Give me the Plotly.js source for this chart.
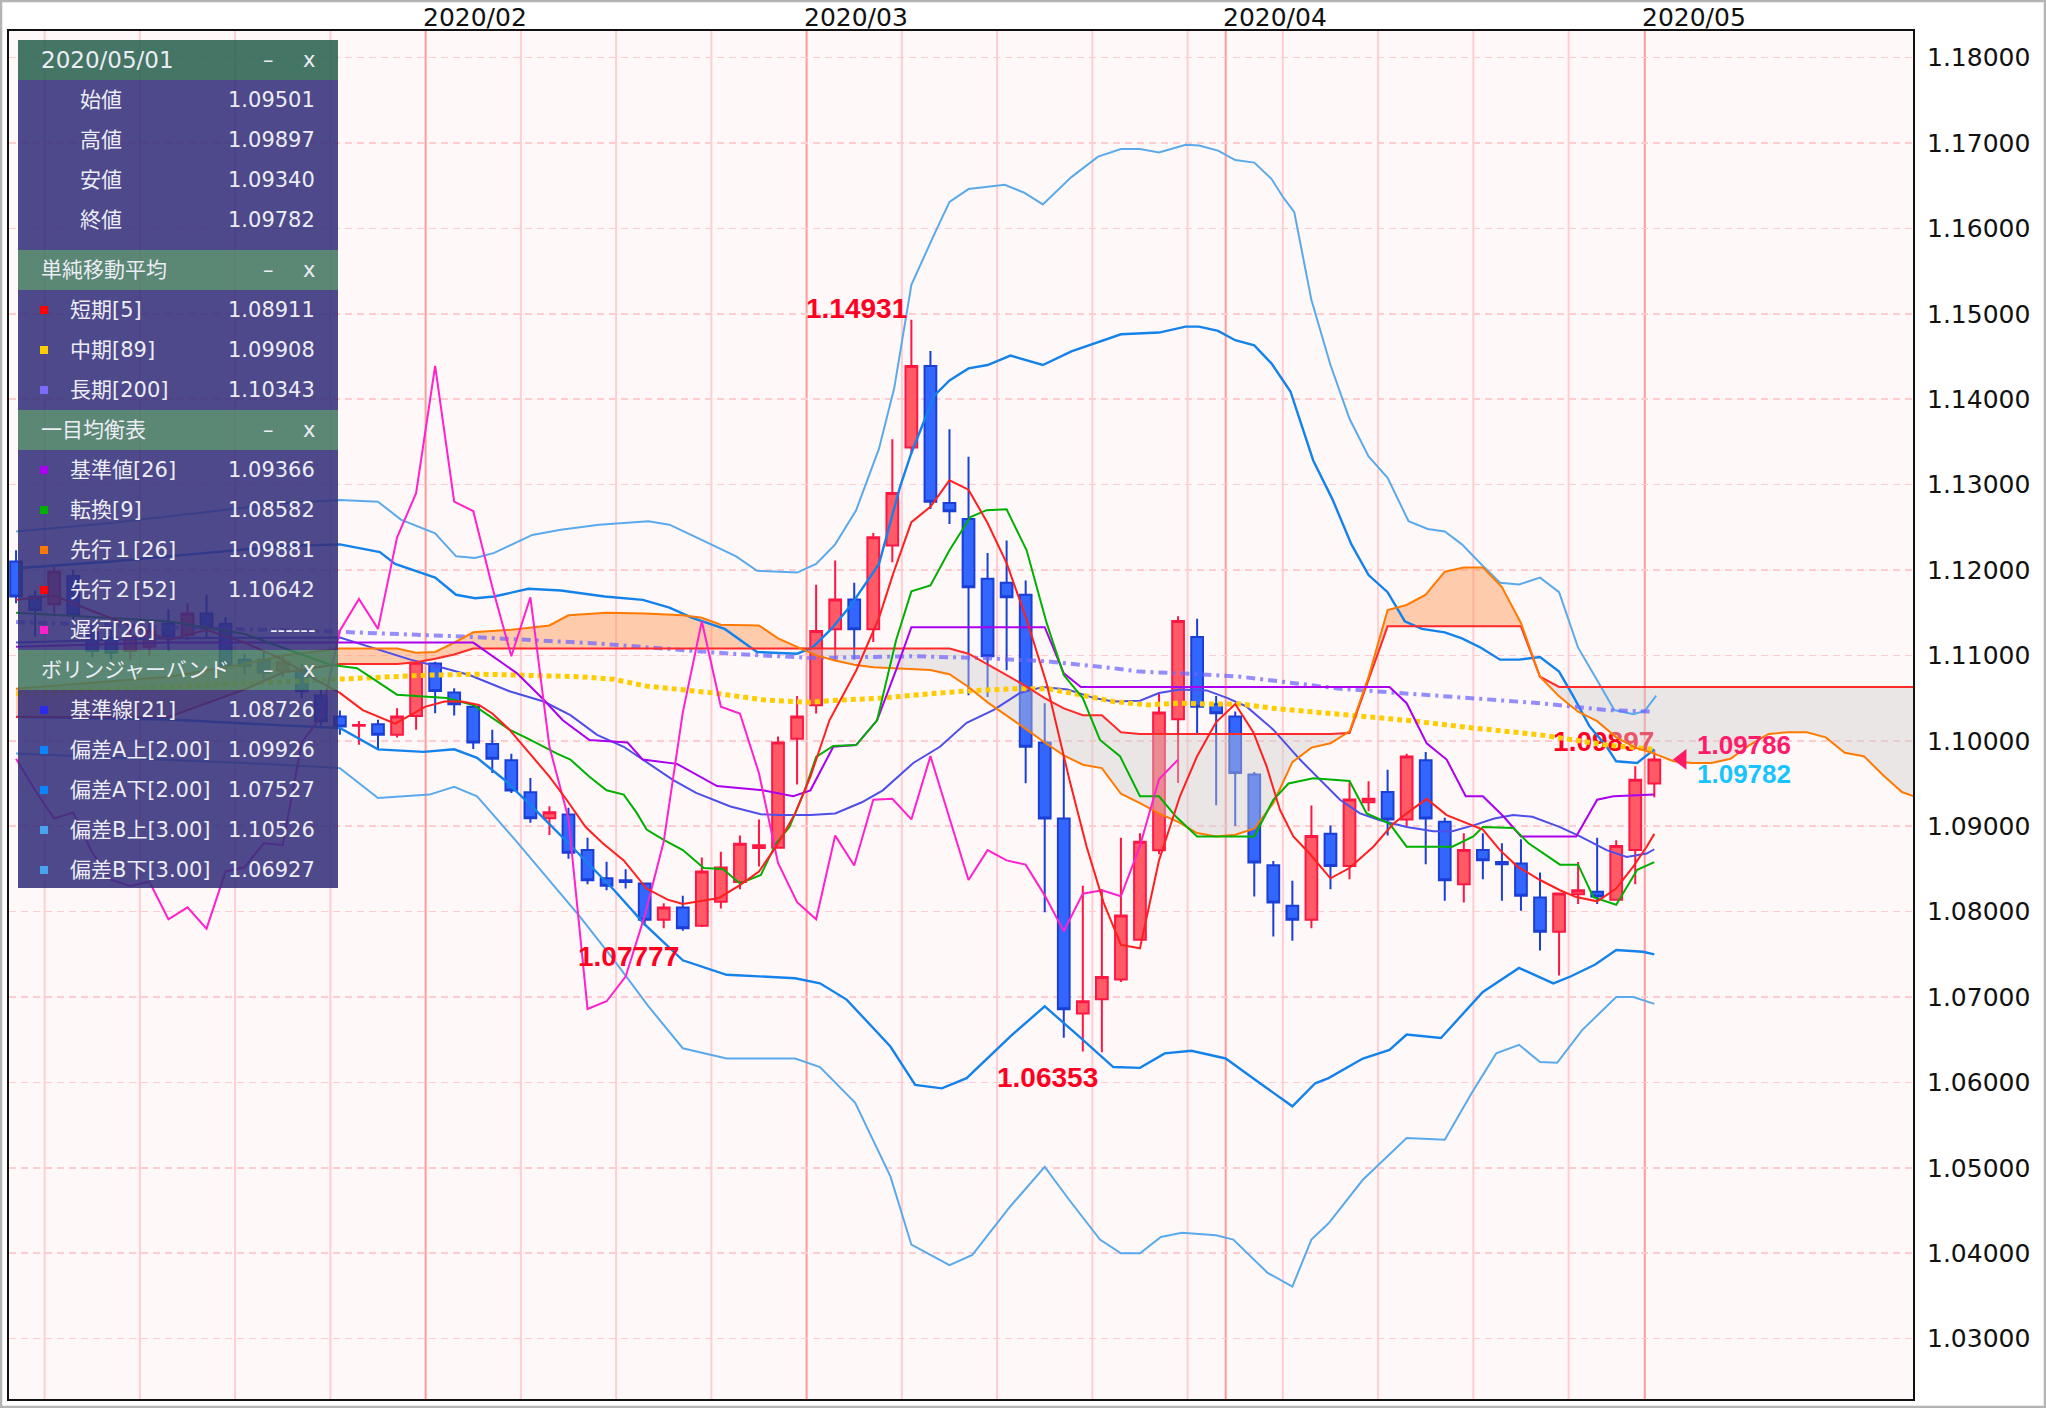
<!DOCTYPE html>
<html>
<head>
<meta charset="utf-8">
<script src="https://cdn.plot.ly/plotly-3.0.1.min.js"></script>
<style>
html,body{margin:0;padding:0;background:#ffffff;}
#chart{width:2046px;height:1408px;}
</style>
</head>
<body>
<div id="chart"></div>
<script>
// ---------- trading days (categories) ----------
const dates = [
 "2020-01-02","2020-01-03",
 "2020-01-06","2020-01-07","2020-01-08","2020-01-09","2020-01-10",
 "2020-01-13","2020-01-14","2020-01-15","2020-01-16","2020-01-17",
 "2020-01-20","2020-01-21","2020-01-22","2020-01-23","2020-01-24",
 "2020-01-27","2020-01-28","2020-01-29","2020-01-30","2020-01-31",
 "2020-02-03","2020-02-04","2020-02-05","2020-02-06","2020-02-07",
 "2020-02-10","2020-02-11","2020-02-12","2020-02-13","2020-02-14",
 "2020-02-17","2020-02-18","2020-02-19","2020-02-20","2020-02-21",
 "2020-02-24","2020-02-25","2020-02-26","2020-02-27","2020-02-28",
 "2020-03-02","2020-03-03","2020-03-04","2020-03-05","2020-03-06",
 "2020-03-09","2020-03-10","2020-03-11","2020-03-12","2020-03-13",
 "2020-03-16","2020-03-17","2020-03-18","2020-03-19","2020-03-20",
 "2020-03-23","2020-03-24","2020-03-25","2020-03-26","2020-03-27",
 "2020-03-30","2020-03-31",
 "2020-04-01","2020-04-02","2020-04-03",
 "2020-04-06","2020-04-07","2020-04-08","2020-04-09","2020-04-10",
 "2020-04-13","2020-04-14","2020-04-15","2020-04-16","2020-04-17",
 "2020-04-20","2020-04-21","2020-04-22","2020-04-23","2020-04-24",
 "2020-04-27","2020-04-28","2020-04-29","2020-04-30",
 "2020-05-01"
];

// ---------- OHLC ----------
const open = [
 1.1210,1.1169,1.1160,1.1193,1.1127,1.1121,1.1105,1.1110,1.1137,1.1124,1.1149,1.1137,1.1095,1.1095,1.1082,1.1082,1.1053,
 1.10284,1.10175,1.10194,1.10070,1.10291,1.10906,1.10564,1.10400,1.09961,1.09771,1.09398,1.09094,1.09137,1.08721,1.08391,1.08368,1.08329,1.07905,1.08049,1.07835,1.08115,1.08348,1.08745,1.08749,1.10023,
 1.10417,1.11305,1.11655,1.11305,1.12286,1.13435,1.14389,1.12784,1.12597,1.11896,1.11850,1.11709,1.09981,1.09091,1.06808,1.06975,1.07204,1.07670,1.08717,1.10253,1.11216,1.10428,
 1.10284,1.09604,1.08543,1.08068,1.07905,1.08912,1.08535,1.09281,1.09401,1.09079,1.09771,1.09052,1.08321,1.08721,1.08582,1.08562,1.08166,1.07765,1.08204,1.08232,1.08138,1.08721,
 1.09501];
const high = [
 1.1223,1.1176,1.1205,1.1200,1.1138,1.1130,1.1130,1.1140,1.1154,1.1161,1.1171,1.1145,1.1102,1.1104,1.1100,1.1090,1.1060,
 1.10354,1.10233,1.10245,1.10381,1.10944,1.10925,1.10614,1.10439,1.10128,1.09848,1.09565,1.09234,1.09215,1.08865,1.08585,1.08496,1.08329,1.08099,1.08185,1.08632,1.08702,1.08892,1.09079,1.10051,1.10525,
 1.11826,1.12111,1.11850,1.12434,1.13532,1.14931,1.14564,1.13649,1.13326,1.12200,1.12344,1.11877,1.10439,1.09837,1.08303,1.08264,1.08866,1.08917,1.10564,1.11457,1.11430,1.10525,
 1.10342,1.09635,1.08593,1.08360,1.09242,1.09009,1.09514,1.09526,1.09662,1.09848,1.09868,1.09098,1.08916,1.08916,1.08799,1.08846,1.08457,1.08220,1.08581,1.08865,1.08834,1.09701,
 1.09897];
const low = [
 1.1161,1.1122,1.1149,1.1142,1.1098,1.1095,1.1095,1.1100,1.1105,1.1118,1.1120,1.1080,1.1078,1.1072,1.1075,1.1050,1.1018,
 1.10070,1.09953,1.09903,1.10039,1.10128,1.10323,1.10295,1.09903,1.09623,1.09390,1.09040,1.08896,1.08620,1.08321,1.08251,1.08270,1.07835,1.07804,1.07777,1.07820,1.08037,1.08263,1.08527,1.08749,1.09487,
 1.10319,1.10931,1.10950,1.11157,1.12091,1.13357,1.12714,1.12539,1.10533,1.10514,1.10826,1.09502,1.07992,1.06524,1.06361,1.06353,1.07177,1.07670,1.08671,1.09506,1.10089,1.09246,
 1.09001,1.08177,1.07707,1.07660,1.07804,1.08263,1.08379,1.09176,1.08892,1.09001,1.08554,1.08127,1.08107,1.08379,1.08127,1.08010,1.07544,1.07252,1.08088,1.08088,1.08138,1.08321,
 1.09340];
const close = [
 1.1169,1.1153,1.1198,1.1147,1.1105,1.1103,1.1122,1.1129,1.1122,1.1149,1.1132,1.1088,1.1088,1.1080,1.1092,1.1058,1.1023,
 1.10167,1.10185,1.10070,1.10284,1.10913,1.10583,1.10428,1.09981,1.09790,1.09417,1.09094,1.09164,1.08690,1.08368,1.08302,1.08348,1.07905,1.08049,1.07804,1.08469,1.08515,1.08795,1.08776,1.09981,1.10284,
 1.11285,1.11655,1.11305,1.12383,1.12901,1.14389,1.12800,1.12687,1.11799,1.10989,1.11682,1.09930,1.09091,1.06858,1.06951,1.07235,1.07953,1.08819,1.10330,1.11403,1.10400,1.10323,
 1.09623,1.08574,1.08107,1.07905,1.08885,1.08535,1.09312,1.09320,1.09079,1.09817,1.09091,1.08368,1.08721,1.08601,1.08554,1.08185,1.07765,1.08212,1.08251,1.08177,1.08768,1.09545,
 1.09782];
const askPrice = 1.09786;
const labelledExtremes = [{i:47, kind:"high"}, {i:35, kind:"low"}, {i:57, kind:"low"}];

// ---------- moving averages (x = trading-day index) ----------
const sma5X = [0,2,4,6,8,10,12,14,16,17,18.2,19.9,21.5,22.5,23.4,24.3,25,25.9,28,28.9,29.9,30.8,31.9,33.1,34.2,35,35.9,36.9,38,39,39.9,40.9,41.7,42.7,44.1,45.3,46.05,47,48,49,50,51,52,53.05,54.1,55.3,56.2,57.1,58,59,60,61.1,62,63,64,64.95,65.65,66.35,67.05,67.9,69,70,71.25,72.3,73,74.05,75.1,76.2,77,77.9,78.8,80,81.05,81.9,83,84,84.9,85.6,86];
const sma5 = [1.1165,1.1170,1.1152,1.1135,1.1118,1.1130,1.1115,1.1095,1.1068,1.1056,1.1036,1.1020,1.1040,1.1046,1.1046,1.1042,1.1032,1.1013,1.0958,1.0931,1.0899,1.0880,1.0860,1.0827,1.0814,1.0809,1.0812,1.0816,1.0831,1.0847,1.0876,1.0915,1.0958,1.1024,1.1082,1.1144,1.1196,1.1256,1.1274,1.1305,1.1294,1.1255,1.1208,1.1142,1.1067,1.0954,1.0876,1.0810,1.0761,1.0757,1.0860,1.0935,1.0982,1.1022,1.1043,1.1010,1.0970,1.0919,1.0888,1.0868,1.0839,1.0851,1.0876,1.0903,1.0915,1.0932,1.0913,1.0903,1.0896,1.0872,1.0853,1.0837,1.0825,1.0817,1.0812,1.0827,1.0853,1.0876,1.0891];
const sma89X = [0,8,16.5,19.1,21.7,24.4,27,29.6,31.4,33.1,34.9,36.6,39.2,41.7,42.7,45.4,48,49.7,52.35,54.1,55.85,57.6,59.4,61.1,62.5,64.3,66,69.5,73,76.5,80,83.5,86];
const sma89 = [1.1055,1.1063,1.1071,1.1074,1.1077,1.1078,1.1077,1.1075,1.1072,1.1064,1.1060,1.1056,1.1048,1.1045,1.1047,1.1050,1.1055,1.1058,1.1061,1.1061,1.1054,1.1046,1.1042,1.1044,1.1043,1.1043,1.1038,1.1031,1.1024,1.1015,1.1007,1.0995,1.0990];
const sma200X = [0,8,16.5,23.5,30.5,34,37.5,41.7,47.1,50.6,54.1,57.6,59,61.1,64.3,69.5,74.7,80,83.5,86];
const sma200 = [1.1139,1.1133,1.1128,1.1122,1.1114,1.1108,1.1102,1.1097,1.1099,1.1097,1.1093,1.1085,1.1081,1.1079,1.1075,1.1061,1.1052,1.1044,1.1036,1.1034];

// ---------- ichimoku ----------
const kijunX = [0,8,17,24,26.3,27.7,28.7,30.1,32.1,32.9,34.7,36.8,39.2,40.8,41.7,42.9,44.1,45.2,46.2,47,54,55,55.9,72.1,73,74.05,75.1,76.1,77,78.1,79,81.9,83,83.85,86];
const kijun = [1.1110,1.1115,1.1115,1.1115,1.1079,1.1048,1.1024,1.1001,1.0998,1.0978,1.0973,1.0947,1.0942,1.0935,1.0942,1.0993,1.0995,1.1024,1.1083,1.1133,1.1133,1.1079,1.1063,1.1063,1.1044,1.0997,1.0978,1.0935,1.0935,1.0911,1.0888,1.0888,1.0931,1.0935,1.0937];
const tenkanX = [0,8,12,16.5,17.9,20,21.4,22.6,24,25.9,27,28.4,29.1,30.1,31,31.9,32.6,33.1,34,35,36.1,37.1,38,39.1,39.9,40.6,41.4,42,42.9,44.1,45.2,46.2,47,48,49,50.1,50.95,52,53.05,54.1,55,56,56.9,57.95,59,60,60.9,62,65,66,66.8,68.1,70,70.9,72.1,73,75.4,76.5,77,78.6,79.4,81.05,82,82.8,84,85.1,86];
const tenkan = [1.1150,1.1140,1.1125,1.1089,1.1085,1.1054,1.1052,1.1050,1.1042,1.1013,1.1001,1.0985,1.0978,1.0958,1.0942,1.0937,1.0915,1.0896,1.0884,1.0872,1.0851,1.0850,1.0833,1.0843,1.0880,1.0899,1.0942,1.0981,1.0994,1.0995,1.1024,1.1118,1.1175,1.1182,1.1223,1.1262,1.1270,1.1271,1.1223,1.1138,1.1077,1.1050,1.1001,1.0982,1.0935,1.0935,1.0911,1.0888,1.0888,1.0931,1.0950,1.0956,1.0953,1.0915,1.0903,1.0876,1.0876,1.0888,1.0899,1.0898,1.0880,1.0855,1.0855,1.0817,1.0808,1.0849,1.0858];
const cloudX = [
 0,4,8,12,14,17,20,21,22,23,
 24,26,28,29,31,33,35,36,37,39,
 40,41,42,43,44,45,47,48,49,50,
 51,52,53,54,55,56,57,58,59,60,
 61,62,63,64,65,66,67,68,69,70,
 71,72,73,74,75,76,77,78,79,80,
 81,82,83,84,85,86,87,88,89,90,
 91,92,93,94,95,96,97,98,99,100];
const senkouA = [
 1.1061,1.1068,1.1075,1.1090,1.1100,1.1108,1.1108,1.1103,1.1104,1.1115,
 1.1127,1.1130,1.1135,1.1147,1.1150,1.1149,1.1147,1.1144,1.1136,1.1135,
 1.1120,1.1110,1.1100,1.1094,1.1089,1.1086,1.1084,1.1083,1.1078,1.1063,
 1.1045,1.1030,1.1014,1.0998,1.0983,1.0972,1.0968,1.0938,1.0927,1.0915,
 1.0905,1.0892,1.0888,1.0890,1.0897,1.0927,1.0975,1.0992,1.0997,1.1011,
 1.1075,1.1153,1.1159,1.1171,1.1198,1.1203,1.1203,1.1180,1.1138,1.1075,
 1.1052,1.1034,1.1023,1.1004,1.0992,1.0985,1.0976,1.0974,1.0974,1.0979,
 1.0995,1.1008,1.1010,1.1010,1.1004,1.0986,1.0982,1.0960,1.0940,1.0932];
const senkouB = [
 1.1028,1.1028,1.1028,1.1060,1.1080,1.1090,1.1090,1.1092,1.1096,1.1101,
 1.1108,1.1108,1.1108,1.1108,1.1108,1.1108,1.1108,1.1108,1.1108,1.1108,
 1.1108,1.1108,1.1108,1.1108,1.1108,1.1108,1.1108,1.1108,1.1108,1.1102,
 1.1090,1.1077,1.1064,1.1050,1.1038,1.1030,1.1030,1.1010,1.1008,1.1008,
 1.1008,1.1008,1.1008,1.1008,1.1008,1.1008,1.1008,1.1008,1.1008,1.1009,
 1.1072,1.1134,1.1134,1.1134,1.1134,1.1134,1.1134,1.1134,1.1134,1.1075,
 1.1063,1.1063,1.1063,1.1063,1.1063,1.1063,1.1063,1.1063,1.1063,1.1063,
 1.1063,1.1063,1.1063,1.1063,1.1063,1.1063,1.1063,1.1063,1.1063,1.1063];
const chikou = [
 1.0979,1.0942,1.0909,1.0916,1.0869,1.0837,1.0830,1.0835,1.0791,1.0805,
 1.0780,1.0847,1.0852,1.0880,1.0878,1.0998,1.1028,1.1129,1.1166,1.1131,
 1.1238,1.1290,1.1439,1.1280,1.1269,1.1180,1.1099,1.1168,1.0993,1.0909,
 1.0686,1.0695,1.0724,1.0795,1.0882,1.1033,1.1140,1.1040,1.1032,1.0962,
 1.0857,1.0811,1.0791,1.0889,1.0854,1.0931,1.0932,1.0908,1.0982,1.0909,
 1.0837,1.0872,1.0860,1.0855,1.0819,1.0777,1.0821,1.0825,1.0818,1.0877,
 1.0955,1.0978];

// ---------- bollinger ----------
const bbU3X = [0,5,10,14,17,19,20.2,22,23.1,24.1,25.1,27.1,28.6,30.6,33.2,34.3,36.1,37.8,38.9,41,42,43,44.1,45.3,46.1,47,48.2,49,50,51.9,52.9,53.9,55.4,56.8,58,59,60,61.4,62.1,63.1,64,65,65.9,66.5,67.1,68,69,70,71,72,73.1,74.1,75,75.9,76.9,77.9,78.9,80,81,82,83,83.9,84.9,85.5,86.1];
const bbU3 = [1.1245,1.1255,1.1268,1.1278,1.1282,1.1280,1.1259,1.1243,1.1216,1.1214,1.1220,1.1241,1.1247,1.1253,1.1257,1.1253,1.1234,1.1216,1.1199,1.1197,1.1207,1.1230,1.1270,1.1342,1.1413,1.1534,1.1593,1.1631,1.1646,1.1651,1.1642,1.1628,1.1660,1.1684,1.1693,1.1693,1.1689,1.1698,1.1697,1.1691,1.1680,1.1677,1.1658,1.1637,1.1619,1.1516,1.1440,1.1377,1.1333,1.1308,1.1257,1.1248,1.1245,1.1230,1.1207,1.1185,1.1183,1.1191,1.1174,1.1109,1.1071,1.1036,1.1031,1.1035,1.1053];
const bbU2X = [0,5,10,14,17,19.1,19.9,22,23.1,24.1,25.1,26.9,28.6,30.9,32.9,34.3,35.5,37.2,38.9,41,41.8,42.8,43.8,45.3,46.4,47,48.2,49,50,51,52.2,53.9,55.4,56.8,58,60,61.4,62.1,63.1,64,65,65.9,66.9,68.1,69.1,70.1,71,72,72.9,73.8,75,75.9,76.9,77.9,78.9,80,81,81.75,82.6,83.5,84,85.1,86];
const bbU2 = [1.1202,1.1210,1.1220,1.1228,1.1230,1.1221,1.1207,1.1191,1.1171,1.1167,1.1169,1.1178,1.1176,1.1169,1.1165,1.1156,1.1144,1.1131,1.1104,1.1102,1.1109,1.1131,1.1158,1.1207,1.1297,1.1337,1.1404,1.1422,1.1436,1.1440,1.1451,1.1440,1.1456,1.1467,1.1476,1.1478,1.1485,1.1485,1.1480,1.1469,1.1463,1.1442,1.1409,1.1328,1.1283,1.1230,1.1194,1.1174,1.1140,1.1131,1.1127,1.1120,1.1109,1.1095,1.1095,1.1098,1.1081,1.1052,1.1017,1.0993,1.0976,1.0974,1.0990];
const bbMidX = [0,8,17,20.7,22.3,23.8,25.9,27.7,29.1,30.5,31.9,32.9,34.5,35.7,37.5,39.1,40.1,41.7,43,44.4,45.5,47.1,48.5,49.9,51.3,52.7,53.9,55.2,56.6,57.6,59,60,61.1,62.5,63.6,64.6,66,67.4,68.45,69.5,70.55,71.6,73,74.4,75.4,76.5,77.6,78.6,79.6,81.05,82.1,83.5,84.55,85.6,86];
const bbMid = [1.1115,1.1120,1.1121,1.1095,1.1086,1.1077,1.1058,1.1046,1.1030,1.1007,1.0993,1.0978,1.0954,1.0939,1.0923,1.0914,1.0913,1.0913,1.0915,1.0928,1.0942,1.0974,1.0993,1.1021,1.1036,1.1056,1.1063,1.1060,1.1050,1.1046,1.1047,1.1056,1.1060,1.1059,1.1050,1.1040,1.1013,1.0978,1.0954,1.0931,1.0915,1.0907,1.0899,1.0894,1.0894,1.0901,1.0909,1.0913,1.0911,1.0899,1.0888,1.0872,1.0864,1.0868,1.0873];
const bbL2X = [0,8,14,17,19,21.4,23,24.2,25.6,27,29,31.4,33,35,37.3,40.9,42.2,43.6,45.9,47.2,48.6,49.9,52.2,54,55.8,57.6,59,60.3,61.7,63.5,65.3,67,68.2,68.9,70.7,72.1,73,74.8,77,78.9,80.7,81.6,82.9,84,85.4,86];
const bbL2 = [1.1028,1.1025,1.1018,1.1015,1.0990,1.0987,1.0990,1.0980,1.0955,1.0925,1.0880,1.0825,1.0785,1.0743,1.0726,1.0722,1.0716,1.0697,1.0642,1.0597,1.0593,1.0605,1.0654,1.0689,1.0654,1.0618,1.0617,1.0634,1.0637,1.0628,1.0599,1.0572,1.0599,1.0605,1.0628,1.0638,1.0656,1.0652,1.0706,1.0734,1.0716,1.0724,1.0738,1.0755,1.0753,1.0750];
const bbL3X = [0,8,14,17,19,21.7,23,24.2,26.2,29.6,31.4,33.2,35,37.3,40.9,42.2,44.05,45.9,47,49,50.2,52.2,54,55.3,56.9,58,59,60.1,61.2,63,63.9,65.7,67,68,68.9,70.7,71.6,73,75,76.4,77.7,78.9,80,80.9,82.2,84,84.9,86];
const bbL3 = [1.0985,1.0978,1.0972,1.0968,1.0933,1.0937,1.0946,1.0935,1.0884,1.0794,1.0743,1.0689,1.0640,1.0628,1.0628,1.0618,1.0576,1.0490,1.0410,1.0386,1.0398,1.0455,1.0501,1.0462,1.0416,1.0400,1.0400,1.0419,1.0424,1.0421,1.0416,1.0377,1.0361,1.0416,1.0435,1.0486,1.0505,1.0535,1.0533,1.0587,1.0634,1.0644,1.0624,1.0623,1.0661,1.0700,1.0700,1.0692];

// ---------- info panel text ----------
const ohlcNames = ["始値","高値","安値","終値"];
const smaNames = ["短期[5]","中期[89]","長期[200]"];
const smaValues = ["1.08911","1.09908","1.10343"];
const smaColors = ["#ff0000","#ffcc00","#7b6cff"];
const ichiNames = ["基準値[26]","転換[9]","先行１[26]","先行２[52]","遅行[26]"];
const ichiValues = ["1.09366","1.08582","1.09881","1.10642","------"];
const ichiColors = ["#aa00ee","#00b000","#ff7700","#ff0000","#ff22cc"];
const bbNames = ["基準線[21]","偏差A上[2.00]","偏差A下[2.00]","偏差B上[3.00]","偏差B下[3.00]"];
const bbValues = ["1.08726","1.09926","1.07527","1.10526","1.06927"];
const bbColors = ["#2b2bee","#0a84ff","#0a84ff","#4aa3f0","#4aa3f0"];
const sectionTitles = ["単純移動平均","一目均衡表","ボリンジャーバンド"];

// ---------- layout geometry (pixels) ----------
const FIG_W = 2046, FIG_H = 1408;
const PL = 9, PR = 1913, PT = 31, PB = 1399;
const Y_RANGE = [1.02293, 1.18311];
const yPerPx = (Y_RANGE[1] - Y_RANGE[0]) / (PB - PT);
const px = v => (v - PL) / (PR - PL);
const py = v => (PB - v) / (PB - PT);

const N = dates.length;
const idx = dates.map((d, i) => i);
const last = N - 1;

function lineTrace(x, y, color, width, dash, extra) {
  return Object.assign({type: "scatter", mode: "lines", x: x, y: y,
    line: {color: color, width: width, dash: dash || "solid"},
    hoverinfo: "skip", showlegend: false}, extra || {});
}

const traces = [];
traces.push({
  type: "candlestick", x: idx, open: open, high: high, low: low, close: close,
  increasing: {line: {color: "#ff1744", width: 2}, fillcolor: "#ff5a66"},
  decreasing: {line: {color: "#1a3fd6", width: 2}, fillcolor: "#3366ff"},
  whiskerwidth: 0, hoverinfo: "skip", showlegend: false
});
traces.push({type: "scatter", mode: "text", x: [last], y: [high[last] - 8 * yPerPx],
  text: ["<b>" + high[last].toFixed(5) + "</b>"], textposition: "top left",
  textfont: {family: "Liberation Sans, Arial, sans-serif", size: 28, color: "#ff0022"},
  hoverinfo: "skip", showlegend: false});

const cloudTop = senkouA.map((a, k) => Math.max(a, senkouB[k]));
traces.push(lineTrace(cloudX, senkouB, "rgba(0,0,0,0)", 0));
traces.push(lineTrace(cloudX, cloudTop, "rgba(0,0,0,0)", 0, null, {fill: "tonexty", fillcolor: "rgba(255,140,70,0.42)"}));
traces.push(lineTrace(cloudX, senkouA, "rgba(0,0,0,0)", 0));
traces.push(lineTrace(cloudX, cloudTop, "rgba(0,0,0,0)", 0, null, {fill: "tonexty", fillcolor: "rgba(205,205,205,0.42)"}));

traces.push(lineTrace(bbU3X, bbU3, "#5aaaeb", 2));
traces.push(lineTrace(bbL3X, bbL3, "#5aaaeb", 2));
traces.push(lineTrace(bbU2X, bbU2, "#1482eb", 2.4));
traces.push(lineTrace(bbL2X, bbL2, "#1482eb", 2.4));
traces.push(lineTrace(bbMidX, bbMid, "#4e4ee8", 2));
traces.push(lineTrace(sma200X, sma200, "rgba(110,100,255,0.72)", 4, "9px,5px,3px,5px"));
traces.push(lineTrace(sma89X, sma89, "#ffcc00", 5, "5px,4px"));
traces.push(lineTrace(cloudX, senkouB, "#ff2a2a", 2));
traces.push(lineTrace(cloudX, senkouA, "#ff7a00", 2));
traces.push(lineTrace(kijunX, kijun, "#aa00ee", 2));
traces.push(lineTrace(tenkanX, tenkan, "#00b000", 2));
traces.push(lineTrace(chikou.map((v, i) => i), chikou, "#ff22cc", 2));
traces.push(lineTrace(sma5X, sma5, "#ff1f1f", 2));
traces.push({type: "scatter", mode: "markers", x: [last + 1.45], y: [close[last]],
  marker: {symbol: "triangle-left", size: 18, color: "#ff1a66"}, hoverinfo: "skip", showlegend: false});

// ---------- vertical lines & month labels ----------
const shapes = [];
const annotations = [];
dates.forEach((d, i) => {
  if (i === 0) return;
  const dt = new Date(d + "T00:00:00Z");
  const prev = new Date(dates[i - 1] + "T00:00:00Z");
  const newMonth = dt.getUTCMonth() !== prev.getUTCMonth();
  const monday = dt.getUTCDay() === 1;
  if (newMonth) {
    annotations.push({xref: "x", yref: "paper", x: i - 0.5, y: 1, xanchor: "left", yanchor: "bottom",
      xshift: -5, yshift: -3, showarrow: false, text: d.slice(0, 4) + "/" + d.slice(5, 7),
      font: {family: "DejaVu Sans, sans-serif", size: 25, color: "#111111"}});
  }
  if (newMonth || monday) {
    shapes.push({type: "line", xref: "x", yref: "paper", x0: i - 0.5, x1: i - 0.5, y0: 0, y1: 1,
      layer: "below", line: {color: newMonth ? "#ff9a9a" : "#ffcdd2", width: 2}});
  }
});

// ---------- info panel ----------
const panelX0 = 18, panelX1 = 338;
const bodyCol = "rgba(52,48,123,0.88)";
const hdrCol1 = "rgba(48,102,84,0.9)";
const hdrCol = "rgba(68,120,97,0.88)";
function rect(x0, y0, x1, y1, fill) {
  shapes.push({type: "rect", xref: "paper", yref: "paper", x0: px(x0), x1: px(x1), y0: py(y1), y1: py(y0),
    fillcolor: fill, line: {width: 0}, layer: "above"});
}
const txtFont = {family: "DejaVu Sans, Noto Sans CJK JP, sans-serif", size: 21, color: "#ececf4"};
function txt(x, y, s, anchor, size) {
  const f = Object.assign({}, txtFont, size ? {size: size} : {});
  annotations.push({xref: "paper", yref: "paper", x: px(x), y: py(y), text: s, showarrow: false,
    xanchor: anchor || "left", yanchor: "middle", font: f});
}
function header(y0, y1, title, col, size) {
  rect(panelX0, y0, panelX1, y1, col);
  const yc = (y0 + y1) / 2;
  txt(39, yc, title, "left", size);
  txt(268, yc, "–", "center");
  txt(309, yc, "x", "center");
}
function swatch(y, col) {
  rect(40, y - 4, 48, y + 4, col);
}
header(40, 80, dates[last].replace(/-/g, "/"), hdrCol1, 23);
rect(panelX0, 80, panelX1, 250, bodyCol);
const ohlcVals = [open[last], high[last], low[last], close[last]];
ohlcNames.forEach((n, k) => {
  const y = 100 + 40 * k;
  txt(78, y, n);
  txt(317, y, ohlcVals[k].toFixed(5), "right");
});
header(250, 290, sectionTitles[0], hdrCol);
rect(panelX0, 290, panelX1, 410, bodyCol);
smaNames.forEach((n, k) => {
  const y = 310 + 40 * k;
  swatch(y, smaColors[k]);
  txt(68, y, n);
  txt(317, y, smaValues[k], "right");
});
header(410, 450, sectionTitles[1], hdrCol);
rect(panelX0, 450, panelX1, 650, bodyCol);
ichiNames.forEach((n, k) => {
  const y = 470 + 40 * k;
  swatch(y, ichiColors[k]);
  txt(68, y, n);
  txt(317, y, ichiValues[k], "right");
});
header(650, 690, sectionTitles[2], hdrCol);
rect(panelX0, 690, panelX1, 888, bodyCol);
bbNames.forEach((n, k) => {
  const y = 710 + 40 * k;
  swatch(y, bbColors[k]);
  txt(68, y, n);
  txt(317, y, bbValues[k], "right");
});

shapes.push({type: "rect", xref: "paper", yref: "paper",
  x0: px(1), x1: px(FIG_W - 1), y0: py(FIG_H - 1), y1: py(1),
  line: {color: "#b4b4b4", width: 2.5}, fillcolor: "rgba(0,0,0,0)", layer: "above"});

const lblFont = {family: "Liberation Sans, Arial, sans-serif", size: 28, color: "#ff0022"};
labelledExtremes.forEach(e => {
  const isHigh = e.kind === "high";
  const v = isHigh ? high[e.i] : low[e.i];
  annotations.push({xref: "x", yref: "y", x: e.i, y: v, text: "<b>" + v.toFixed(5) + "</b>",
    showarrow: false, xanchor: "right", yanchor: isHigh ? "bottom" : "top",
    yshift: isHigh ? -6 : -8, xshift: -2, font: lblFont});
});
annotations.push({xref: "x", yref: "y", x: last + 2.14, y: askPrice, text: "<b>" + askPrice.toFixed(5) + "</b>",
  showarrow: false, xanchor: "left", yanchor: "middle", yshift: 14,
  font: {family: "Liberation Sans, Arial, sans-serif", size: 26, color: "#ff1a6a"}});
annotations.push({xref: "x", yref: "y", x: last + 2.14, y: close[last], text: "<b>" + close[last].toFixed(5) + "</b>",
  showarrow: false, xanchor: "left", yanchor: "middle", yshift: -15,
  font: {family: "Liberation Sans, Arial, sans-serif", size: 26, color: "#18c4ff"}});

const layout = {
  width: FIG_W, height: FIG_H,
  margin: {l: PL, r: FIG_W - PR, t: PT, b: FIG_H - PB, pad: 0},
  paper_bgcolor: "#ffffff", plot_bgcolor: "#fff8f8",
  showlegend: false, boxgap: 0.12, dragmode: false,
  xaxis: {type: "linear", range: [-0.37, 99.58], side: "top", showticklabels: false,
    showgrid: false, zeroline: false, showline: true, mirror: true,
    linecolor: "#111111", linewidth: 2, ticks: "",
    rangeslider: {visible: false}, fixedrange: true},
  yaxis: {range: Y_RANGE, side: "right", tick0: 1.0, dtick: 0.01, tickformat: ".5f",
    showgrid: true, gridcolor: "#ffcdd0", griddash: "7px,5px", gridwidth: 1.5,
    zeroline: false, showline: true, mirror: true, linecolor: "#111111", linewidth: 2, ticks: "",
    ticklabelstandoff: 7,
    tickfont: {family: "DejaVu Sans, sans-serif", size: 25, color: "#111111"}, fixedrange: true},
  shapes: shapes,
  annotations: annotations
};

Plotly.newPlot("chart", traces, layout, {displayModeBar: false, staticPlot: true});
</script>
</body>
</html>
